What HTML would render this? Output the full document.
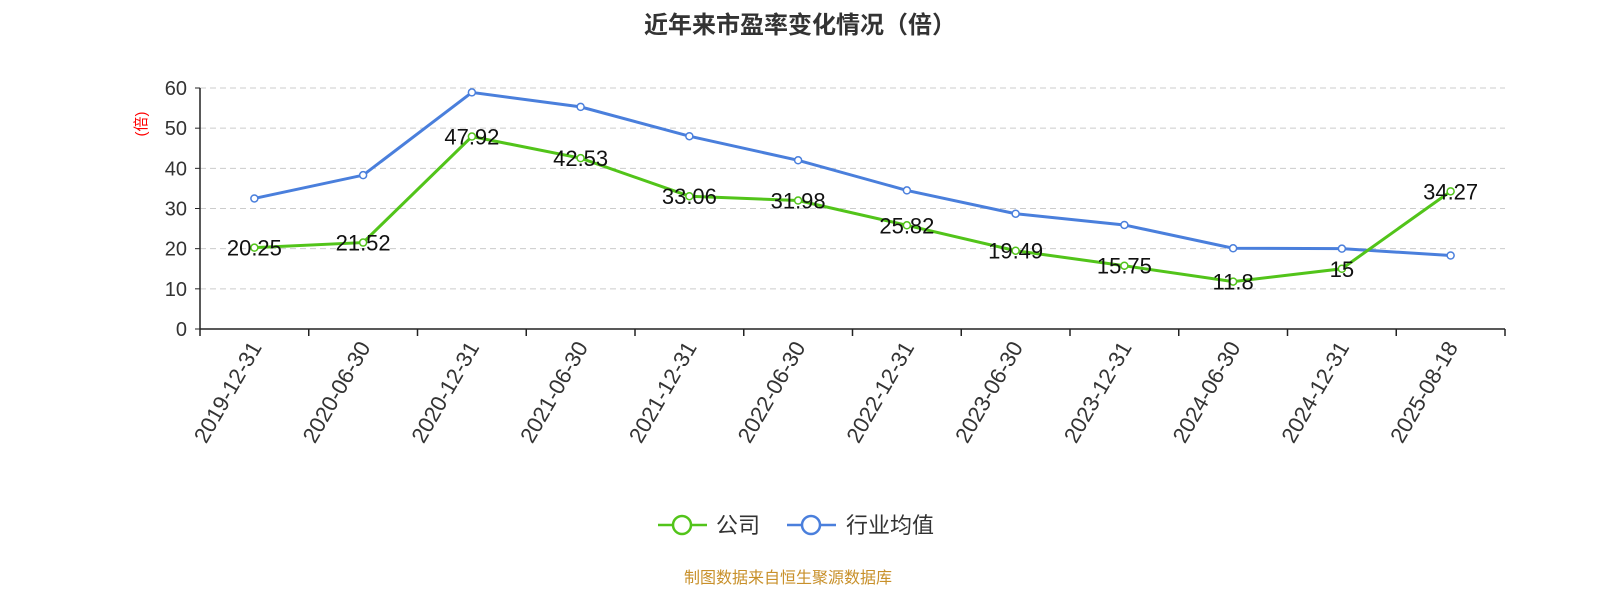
<!DOCTYPE html>
<html><head><meta charset="utf-8"><style>
html,body{margin:0;background:#fff;width:1600px;height:600px;overflow:hidden;font-family:"Liberation Sans","Noto Sans CJK SC",sans-serif}
</style></head><body>
<svg id="c" width="1600" height="600" xmlns="http://www.w3.org/2000/svg">
<text x="800" y="33" text-anchor="middle" font-size="24" font-weight="bold" fill="#333" font-family="Liberation Sans,Noto Sans CJK SC,sans-serif">近年来市盈率变化情况（倍）</text>
<text x="146" y="124" text-anchor="middle" font-size="15" fill="#ff0000" transform="rotate(-90 146 124)" font-family="Liberation Sans,Noto Sans CJK SC,sans-serif">(倍)</text>
<g>
<g><line x1="658" y1="525" x2="707" y2="525" stroke="#52c41a" stroke-width="2.5"/><circle cx="682" cy="525" r="9" fill="#fff" stroke="#52c41a" stroke-width="2.5"/><text x="716" y="533" font-size="22" fill="#333" font-family="Liberation Sans,Noto Sans CJK SC,sans-serif">公司</text></g>
<g><line x1="787" y1="525" x2="836" y2="525" stroke="#4a7fdc" stroke-width="2.5"/><circle cx="811" cy="525" r="9" fill="#fff" stroke="#4a7fdc" stroke-width="2.5"/><text x="846" y="533" font-size="22" fill="#333" font-family="Liberation Sans,Noto Sans CJK SC,sans-serif">行业均值</text></g>
</g>
<text x="788" y="583" text-anchor="middle" font-size="16" fill="#c8902a" font-family="Liberation Sans,Noto Sans CJK SC,sans-serif">制图数据来自恒生聚源数据库</text>
<g id="plot"></g>
</svg>
<script>
const categories=["2019-12-31","2020-06-30","2020-12-31","2021-06-30","2021-12-31","2022-06-30","2022-12-31","2023-06-30","2023-12-31","2024-06-30","2024-12-31","2025-08-18"];
const companyValues=[20.25,21.52,47.92,42.53,33.06,31.98,25.82,19.49,15.75,11.8,15,34.27];
const companyLabels=["20.25","21.52","47.92","42.53","33.06","31.98","25.82","19.49","15.75","11.8","15","34.27"];
const industryValues=[32.5,38.3,58.9,55.3,48,42,34.5,28.7,25.9,20.1,20,18.3];
const yTicks=[0,10,20,30,40,50,60];
const NS="http://www.w3.org/2000/svg";
const g=document.getElementById('plot');
const X0=200,X1=1505,Y0=329,Y1=88,YMAX=60;
const bw=(X1-X0)/categories.length;
const xs=i=>X0+bw*(i+0.5);
const ys=v=>Y0-(v/YMAX)*(Y0-Y1);
function el(t,a){const e=document.createElementNS(NS,t);for(const k in a)e.setAttribute(k,a[k]);g.appendChild(e);return e;}
const F="Liberation Sans,Noto Sans CJK SC,sans-serif";
yTicks.forEach(t=>{
 if(t>0){const l=el('line',{x1:X0,x2:X1,y1:ys(t),y2:ys(t),stroke:'#ccc','stroke-dasharray':'6,4'});
 
 }
 const tk=el('line',{x1:X0-5,x2:X0,y1:ys(t),y2:ys(t),stroke:'#222'});
 
 
 const tx=el('text',{x:X0-13,y:ys(t)+7,'text-anchor':'end','font-size':20,fill:'#333','font-family':F});
 tx.textContent=t;
 
 
});
const ya=el('line',{x1:X0,x2:X0,y1:Y1,y2:Y0,stroke:'#222','stroke-width':1.5});


const xa=el('line',{x1:X0,x2:X1,y1:Y0,y2:Y0,stroke:'#222','stroke-width':1.5});


for(let i=0;i<=categories.length;i++){
 const tk=el('line',{x1:X0+bw*i,x2:X0+bw*i,y1:Y0,y2:Y0+7,stroke:'#222','stroke-width':1.5});
 
 
}
categories.forEach((c,i)=>{
 const x=xs(i)+8,y=Y0+18;
 const t=el('text',{x:x,y:y,'text-anchor':'end','font-size':22,fill:'#333','font-family':F,transform:`rotate(-60 ${x} ${y})`});
 t.textContent=c;
 
 
});
function series(vals,color,name){
 const p=el('polyline',{points:vals.map((v,i)=>xs(i)+','+ys(v)).join(' '),fill:'none',stroke:color,'stroke-width':3});
 
 
 vals.forEach((v,i)=>{
  const c=el('circle',{cx:xs(i),cy:ys(v),r:3.5,fill:'#fff',stroke:color,'stroke-width':1.5});
  
  
 });
}
series(industryValues,'#4a7fdc','industry');
series(companyValues,'#52c41a','company');
companyValues.forEach((v,i)=>{
 const t=el('text',{x:xs(i),y:ys(v)+8,'text-anchor':'middle','font-size':22,fill:'#111','font-family':F});
 t.textContent=companyLabels[i];
 
 
});
</script>
</body></html>
